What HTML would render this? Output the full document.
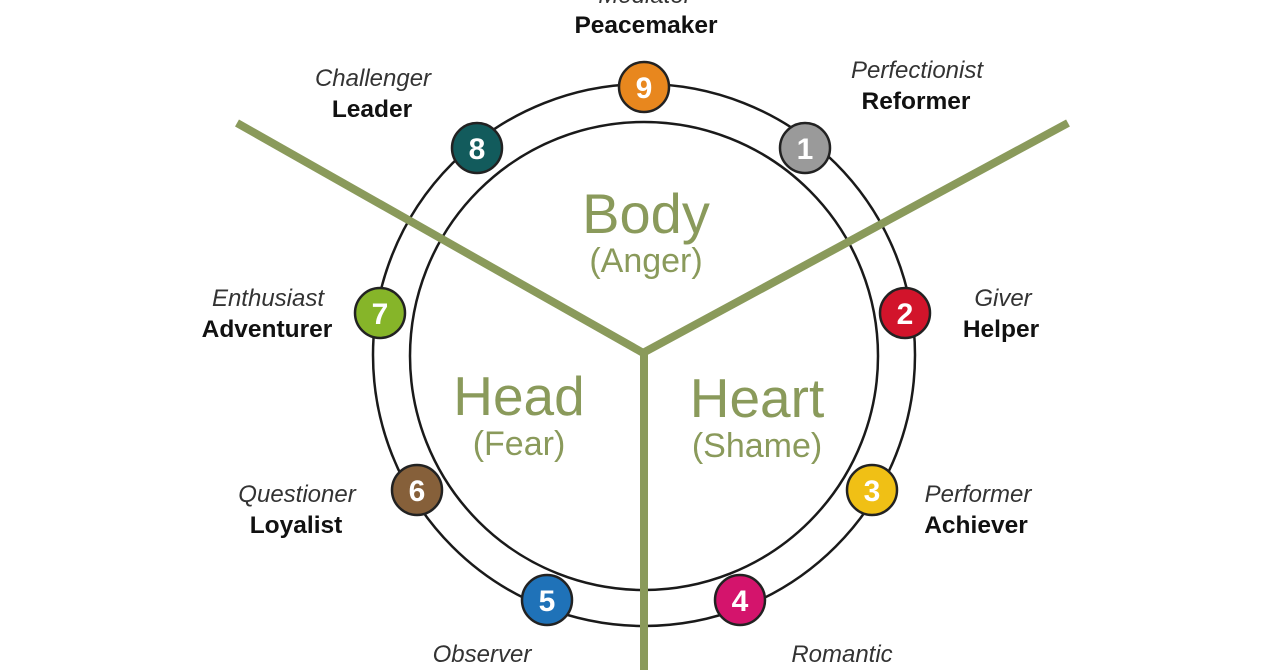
<!DOCTYPE html>
<html><head><meta charset="utf-8"><style>
html,body{margin:0;padding:0;background:#fff;}
svg{display:block;}
.i{font-family:"Liberation Sans",sans-serif;font-style:italic;font-size:24px;fill:#333;text-anchor:middle;}
.b{font-family:"Liberation Sans",sans-serif;font-weight:bold;font-size:24.5px;fill:#111;text-anchor:middle;}
.g{font-family:"Liberation Sans",sans-serif;fill:#8a9a5b;text-anchor:middle;}
.n{font-family:"Liberation Sans",sans-serif;font-weight:bold;font-size:30px;fill:#fff;text-anchor:middle;}
</style></head><body>
<svg width="1280" height="670" viewBox="0 0 1280 670">
<rect width="1280" height="670" fill="#fff"/>
<circle cx="644" cy="355" r="271" fill="none" stroke="#1a1a1a" stroke-width="2.5"/>
<circle cx="644" cy="356" r="234" fill="none" stroke="#1a1a1a" stroke-width="2.5"/>
<g stroke="#8a9a5b" stroke-width="8" fill="none" stroke-linecap="butt">
<line x1="237" y1="123" x2="645" y2="354"/>
<line x1="1068" y1="123" x2="641" y2="354"/>
<line x1="644" y1="350" x2="644" y2="670"/>
</g>
<text class="g" x="646" y="233" font-size="56">Body</text>
<text class="g" x="646" y="272" font-size="34">(Anger)</text>
<text class="g" x="519" y="415" font-size="55">Head</text>
<text class="g" x="519" y="455" font-size="34">(Fear)</text>
<text class="g" x="757" y="417" font-size="55">Heart</text>
<text class="g" x="757" y="457" font-size="34">(Shame)</text>
<g stroke="#222" stroke-width="2.5">
<circle cx="644" cy="87" r="25" fill="#e8871e"/>
<circle cx="805" cy="148" r="25" fill="#9a9a9a"/>
<circle cx="905" cy="313" r="25" fill="#d2142b"/>
<circle cx="872" cy="490" r="25" fill="#f0c015"/>
<circle cx="740" cy="600" r="25" fill="#d4146c"/>
<circle cx="547" cy="600" r="25" fill="#1f72b8"/>
<circle cx="417" cy="490" r="25" fill="#86603a"/>
<circle cx="380" cy="313" r="25" fill="#86b529"/>
<circle cx="477" cy="148" r="25" fill="#125b5c"/>
</g>
<text class="n" x="644" y="98">9</text>
<text class="n" x="805" y="159">1</text>
<text class="n" x="905" y="324">2</text>
<text class="n" x="872" y="501">3</text>
<text class="n" x="740" y="611">4</text>
<text class="n" x="547" y="611">5</text>
<text class="n" x="417" y="501">6</text>
<text class="n" x="380" y="324">7</text>
<text class="n" x="477" y="159">8</text>
<text class="i" x="645" y="3">Mediator</text>
<text class="b" x="646" y="33">Peacemaker</text>
<text class="i" x="373" y="86">Challenger</text>
<text class="b" x="372" y="117">Leader</text>
<text class="i" x="917" y="78">Perfectionist</text>
<text class="b" x="916" y="109">Reformer</text>
<text class="i" x="268" y="306">Enthusiast</text>
<text class="b" x="267" y="337">Adventurer</text>
<text class="i" x="1003" y="306">Giver</text>
<text class="b" x="1001" y="337">Helper</text>
<text class="i" x="297" y="502">Questioner</text>
<text class="b" x="296" y="533">Loyalist</text>
<text class="i" x="978" y="502">Performer</text>
<text class="b" x="976" y="533">Achiever</text>
<text class="i" x="482" y="662">Observer</text>
<text class="i" x="842" y="662">Romantic</text>
</svg>
</body></html>
